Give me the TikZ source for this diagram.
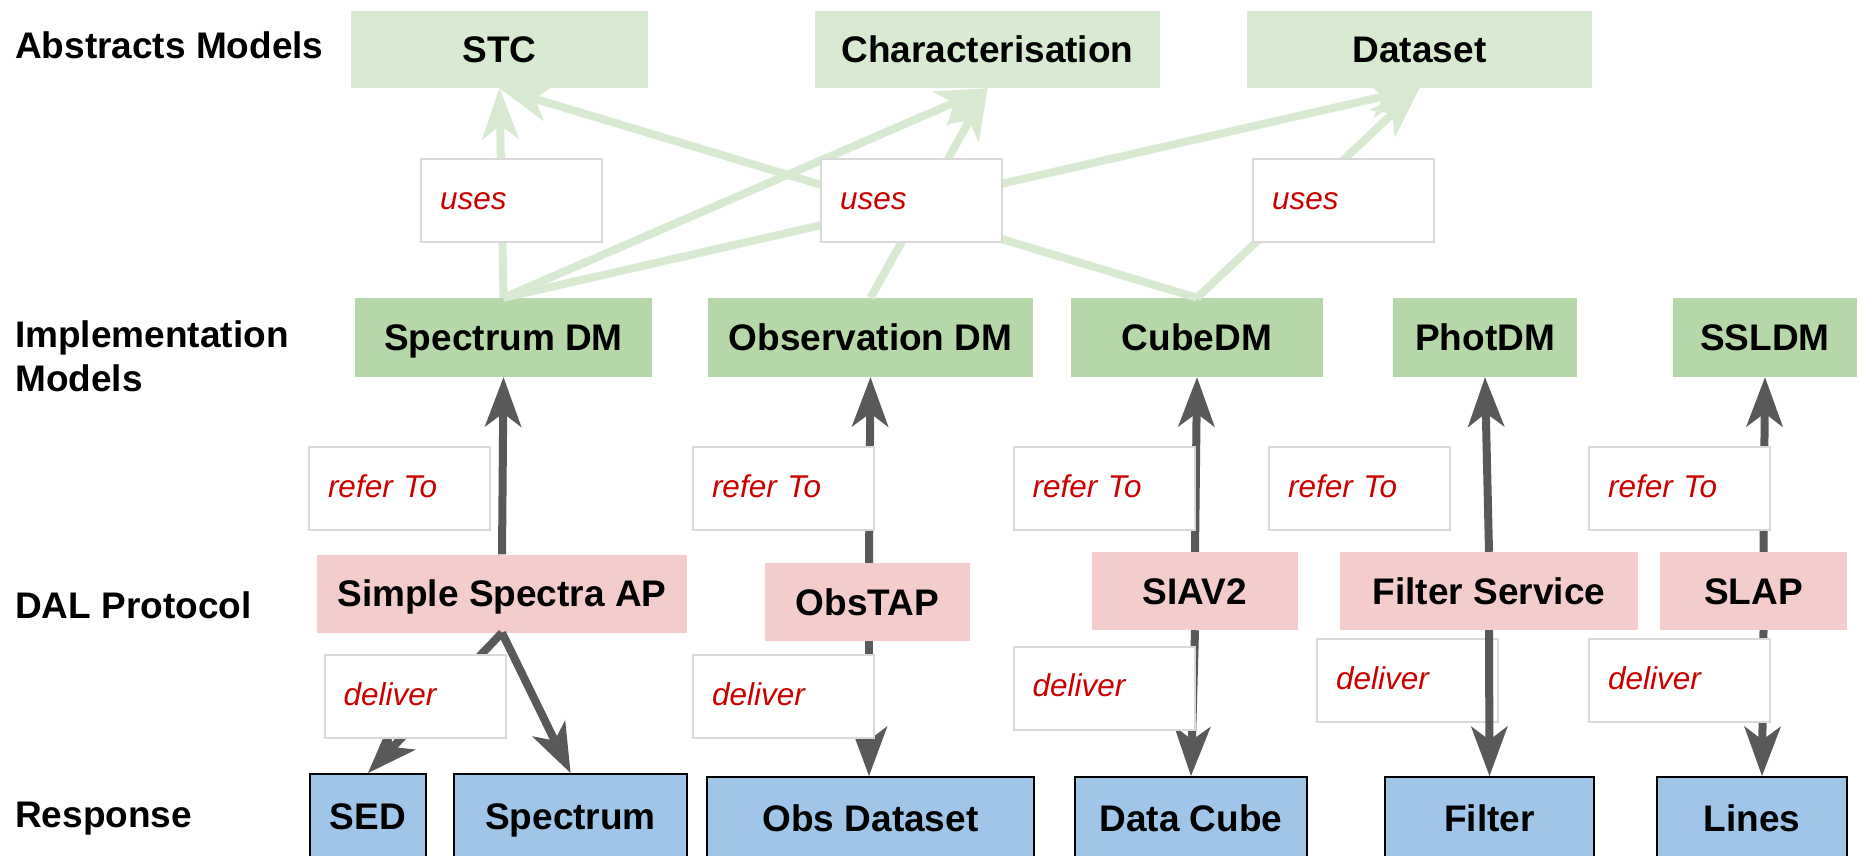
\documentclass[tikz,border=0pt]{standalone}
\usepackage{fontspec}
\setmainfont{Liberation Sans}
\usetikzlibrary{arrows.meta}
\definecolor{absgreen}{HTML}{D9EAD3}
\definecolor{impgreen}{HTML}{B6D7A8}
\definecolor{dalpink}{HTML}{F4CCCC}
\definecolor{resblue}{HTML}{9FC5E8}
\definecolor{arrgray}{HTML}{595959}
\definecolor{lblgray}{HTML}{D9D9D9}
\definecolor{lblred}{HTML}{CC0000}
\begin{document}
\begin{tikzpicture}[x=1pt,y=-1pt,
  box/.style={inner sep=0pt, font=\bfseries\fontsize{37}{44}\selectfont, text height=26.5pt, text depth=0pt},
  absbox/.style={box, fill=absgreen, minimum height=77pt},
  impbox/.style={box, fill=impgreen, minimum height=79pt},
  dalbox/.style={box, fill=dalpink, minimum height=78pt},
  resbox/.style={box, fill=resblue, draw=black, line width=2pt},
  lbl/.style={fill=white, draw=lblgray, line width=2pt, minimum height=83pt, inner xsep=19pt, inner ysep=0pt, text width=143pt, align=left, font=\itshape\fontsize{31.5}{38}\selectfont, text=lblred, text height=17.5pt, text depth=0pt},
  rowlbl/.style={anchor=base west, inner sep=0pt, font=\bfseries\fontsize{37}{44}\selectfont, align=left},
  darr/.style={draw=arrgray, line width=8pt, -{Stealth[length=50pt, width=37pt, inset=14pt, line width=0pt]}},
  garr/.style={draw=absgreen, line width=8pt, -{Stealth[length=52pt, width=38pt, inset=15pt, line width=0pt]}},
]
\fill[white] (0,0) rectangle (1860,855);
\useasboundingbox (0,0) rectangle (1860,855);

% row labels
\node[rowlbl] (rabs) at (15,58) {Abstracts Models};
\node[rowlbl, anchor=north west] (rimp) at (15,320) {Implementation\\Models};
\node[rowlbl] (rdal) at (15,618) {DAL Protocol};
\node[rowlbl] (rres) at (15,827) {Response};

% abstract models
\node[absbox, minimum width=297pt] (stc) at (499.5,49.5) {STC};
\node[absbox, minimum width=345pt] (char) at (987.5,49.5) {Characterisation};
\node[absbox, minimum width=345pt] (dset) at (1419.5,49.5) {Dataset};

% implementation models
\node[impbox, minimum width=297pt] (sdm) at (503.5,337.5) {Spectrum DM};
\node[impbox, minimum width=325pt] (odm) at (870.5,337.5) {Observation DM};
\node[impbox, minimum width=252pt] (cdm) at (1197,337.5) {CubeDM};
\node[impbox, minimum width=184pt] (pdm) at (1485,337.5) {PhotDM};
\node[impbox, minimum width=184pt] (sldm) at (1765,337.5) {SSLDM};

% DAL protocols
\node[dalbox, minimum width=370pt] (ssap) at (502,593.5) {Simple Spectra AP};
\node[dalbox, minimum width=205pt] (otap) at (867.5,602) {ObsTAP};
\node[dalbox, minimum width=206pt] (siav) at (1195,591) {SIAV2};
\node[dalbox, minimum width=298pt] (fsrv) at (1489,591) {Filter Service};
\node[dalbox, minimum width=187pt] (slap) at (1753.5,591) {SLAP};

% responses
\node[resbox, minimum width=116pt, minimum height=84pt] (sed) at (368,816) {SED};
\node[resbox, minimum width=233pt, minimum height=84pt] (spec) at (570.5,816) {Spectrum};
\node[resbox, minimum width=327pt, minimum height=82pt] (odset) at (870.5,818) {Obs Dataset};
\node[resbox, minimum width=232pt, minimum height=82pt] (dcube) at (1191,818) {Data Cube};
\node[resbox, minimum width=209pt, minimum height=82pt] (filt) at (1489.5,818) {Filter};
\node[resbox, minimum width=190pt, minimum height=82pt] (lines) at (1752,818) {Lines};

% green "uses" arrows
\draw[garr] (sdm.north) -- (stc.south);
\draw[garr] (sdm.north) -- (char.south);
\draw[garr] (sdm.north) -- (dset.south);
\draw[garr] (odm.north) -- (char.south);
\draw[garr] (cdm.north) -- (stc.south);
\draw[garr] (cdm.north) -- (dset.south);

% dark arrows
\draw[darr] (ssap.north) -- (sdm.south);
\draw[darr] (ssap.south) -- (sed.north);
\draw[darr] (ssap.south) -- (spec.north);
\draw[darr] ([xshift=1.5pt]otap.north) -- (odm.south);
\draw[darr] ([xshift=1.5pt]otap.south) -- ([xshift=-1.5pt]odset.north);
\draw[darr] (siav.north) -- (cdm.south);
\draw[darr] (siav.south) -- (dcube.north);
\draw[darr] ([xshift=10pt]slap.north) -- (sldm.south);
\draw[darr] ([xshift=10pt]slap.south) -- ([xshift=10pt]lines.north);

\node[lbl] (d4) at (1407.5,680.5) {deliver};
\draw[darr] (fsrv.north) -- (pdm.south);
\draw[darr] (fsrv.south) -- (filt.north);

% labels
\node[lbl] (u1) at (511.5,200.5) {uses};
\node[lbl] (u2) at (911.5,200.5) {uses};
\node[lbl] (u3) at (1343.5,200.5) {uses};
\node[lbl] (r1) at (399.5,488.5) {refer To};
\node[lbl] (r2) at (783.5,488.5) {refer To};
\node[lbl] (r3) at (1104,488.5) {refer To};
\node[lbl] (r4) at (1359.5,488.5) {refer To};
\node[lbl] (r5) at (1679.5,488.5) {refer To};
\node[lbl] (d1) at (415,696.5) {deliver};
\node[lbl] (d2) at (783.5,696.5) {deliver};
\node[lbl] (d3) at (1104,688) {deliver};
\node[lbl] (d5) at (1679.5,680.5) {deliver};
\end{tikzpicture}
\end{document}
